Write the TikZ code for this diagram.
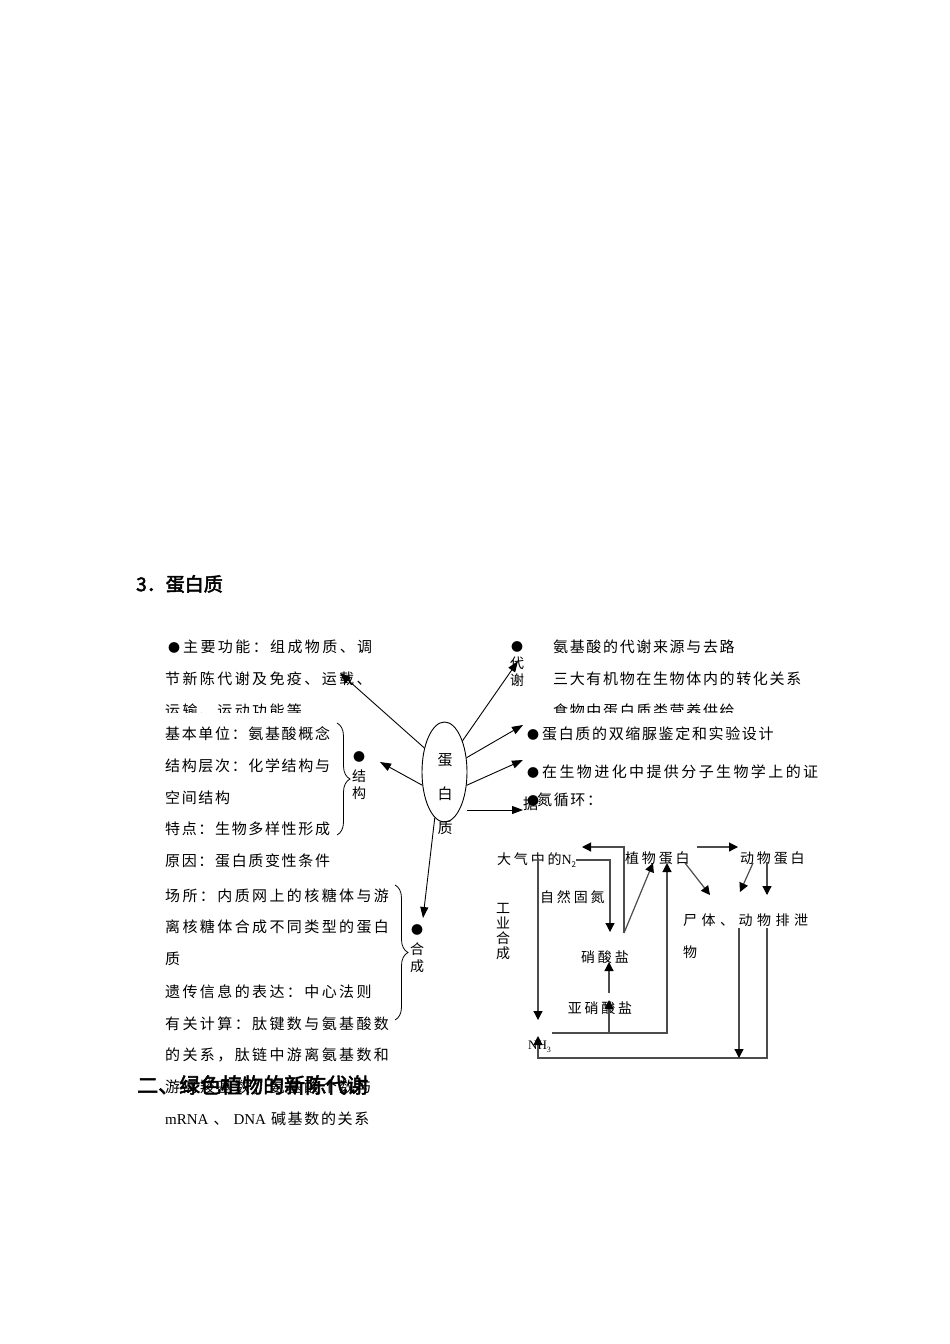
\documentclass[tikz,border=0pt]{standalone}
\usepackage{fontspec}
\setmainfont{Liberation Serif}
\newfontfamily\cjk[LetterSpace=11]{Noto Sans CJK SC}
\newfontfamily\cjkw[LetterSpace=16]{Noto Sans CJK SC}
\newfontfamily\cjkn[LetterSpace=20]{Noto Sans CJK SC}
\newfontfamily\cjkb[FakeBold=2.5]{Noto Sans CJK SC}
\usetikzlibrary{shapes.geometric,arrows.meta,decorations.pathreplacing}
\newcommand{\bul}{{\fontsize{12}{12}\selectfont ●}}
\newcommand{\lowidx}[1]{\raisebox{-2.5pt}{\fontsize{8}{8}\selectfont #1}}
\tikzset{
  txt/.style={anchor=west,inner sep=0pt,font=\cjk\fontsize{15}{17}\selectfont},
  wtxt/.style={anchor=west,inner sep=0pt,font=\cjkw\fontsize{15}{17}\selectfont},
  ntxt/.style={anchor=west,inner sep=0pt,font=\cjkn\fontsize{14}{17}\selectfont},
  vtxt/.style={inner sep=0pt,align=center,font=\cjkn\fontsize{14}{17}\selectfont},
  head/.style={anchor=west,inner sep=0pt,font=\cjkb\fontsize{19}{22}\selectfont},
  arr/.style={-{Triangle[length=11pt,width=8pt]},line width=0.9pt},
  cyc/.style={draw=black!70,line width=1.2pt,-{Triangle[length=9pt,width=9pt,color=black]}},
  brc/.style={decorate,decoration={brace,amplitude=13pt,aspect=0.5},line width=0.8pt}
}
\begin{document}
\begin{tikzpicture}[x=1pt,y=-1pt]
  \fill[white] (0,0) rectangle (950,1344);
  \useasboundingbox (0,0) rectangle (950,1344);

  %Nodes
  \node[head] at (136,584) (title) {3．蛋白质};
  \node[draw,ellipse,line width=0.9pt,inner sep=0pt,minimum width=45pt,minimum height=100pt] at (444.5,772) (dbz) {};
  \node[vtxt,font=\cjk\fontsize{15}{34}\selectfont] at (445,794) (dbzt) {蛋\\白\\质};

  \node[wtxt] at (168,647) (gn1) {\bul\hspace{3pt}主要功能：组成物质、调};
  \node[wtxt] at (165,679) (gn2) {节新陈代谢及免疫、运载、};
  \begin{scope}
    \clip (150,690) rectangle (850,712);
    \node[wtxt] at (165,711) (gn3) {运输、运动功能等};
    \node[txt] at (553,711) (dx3) {食物中蛋白质类营养供给};
  \end{scope}

  \node[txt] at (165,734) (jg1) {基本单位：氨基酸概念};
  \node[txt] at (165,766) (jg2) {结构层次：化学结构与};
  \node[txt] at (165,798) (jg3) {空间结构};
  \node[txt] at (165,829) (jg4) {特点：生物多样性形成};
  \node[txt] at (165,861) (bx) {原因：蛋白质变性条件};
  \node[vtxt] at (359,757) (jgb) {\bul};
  \node[vtxt] at (359,785) (jg) {结\\构};

  \node[wtxt] at (165,896) (hc1) {场所：内质网上的核糖体与游};
  \node[wtxt] at (165,927) (hc2) {离核糖体合成不同类型的蛋白};
  \node[wtxt] at (165,959) (hc3) {质};
  \node[wtxt] at (165,992) (hc4) {遗传信息的表达：中心法则};
  \node[wtxt] at (165,1024) (js1) {有关计算：肽键数与氨基酸数};
  \node[wtxt] at (165,1055) (js2) {的关系，肽链中游离氨基数和};
  \node[wtxt] at (165,1087) (js3) {游离羧基数；氨基酸个数与};
  \node[txt] at (165,1119) (js4) {{\rmfamily mRNA} 、 {\rmfamily DNA} 碱基数的关系};
  \node[vtxt] at (417,930) (hcb) {\bul};
  \node[vtxt] at (417,958) (hc) {合\\成};
  \node[head,font=\cjkb\fontsize{21}{24}\selectfont] at (137,1085) (er) {二、绿色植物的新陈代谢};

  \node[vtxt] at (517,647) (dxb) {\bul};
  \node[vtxt] at (517,672) (dx) {代\\谢};
  \node[txt] at (553,647) (dx1) {氨基酸的代谢来源与去路};
  \node[txt] at (553,679) (dx2) {三大有机物在生物体内的转化关系};
  \node[txt] at (527,734) (sy) {\bul\hspace{3pt}蛋白质的双缩脲鉴定和实验设计};
  \node[wtxt] at (527,772) (jh) {\bul\hspace{3pt}在生物进化中提供分子生物学上的证};
  \node[txt] at (523,804) (jh2) {据};
  \node[txt] at (527,800) (dxh) {\bul\hspace{-2pt}氮循环：};

  \node[ntxt] at (497,860) (dq) {大气中的{\rmfamily N}\lowidx{2}};
  \node[ntxt] at (625,858) (zwdb) {植物蛋白};
  \node[ntxt] at (740,858) (dwdb) {动物蛋白};
  \node[ntxt] at (540,897) (zrgd) {自然固氮};
  \node[vtxt,font=\cjk\fontsize{14}{15}\selectfont] at (503,932) (gyhc) {工\\业\\合\\成};
  \node[vtxt] at (605,957) (xsy) {硝酸盐};
  \node[vtxt] at (600,1008) (yxsy) {亚硝酸盐};
  \node[ntxt,font=\cjkn\fontsize{14}{17}\selectfont\addfontfeature{LetterSpace=32}] at (683,920) (st) {尸体、动物排泄};
  \node[ntxt] at (683,952) (st2) {物};
  \node[anchor=west,inner sep=0pt,font=\rmfamily\fontsize{13}{15}\selectfont] at (528,1047) (nh) {NH\lowidx{3}};

  %Coordinates
  \coordinate (t1) at (340,673);
  \coordinate (t2) at (380,762);
  \coordinate (t3) at (518,661);
  \coordinate (t4) at (523,725);
  \coordinate (t5) at (523,760);
  \coordinate (t6) at (523,810);
  \coordinate (t7) at (423,918);

  \coordinate (a1) at (610,932);
  \coordinate (a2) at (624,933);
  \coordinate (a3) at (582,847);
  \coordinate (a4) at (653,863);
  \coordinate (a5) at (552,1033);
  \coordinate (a6) at (667,863);
  \coordinate (a7) at (609,1033);
  \coordinate (a8) at (609,1000);
  \coordinate (a9) at (609,993);
  \coordinate (a10) at (609,962);
  \coordinate (a11) at (538,858);
  \coordinate (a12) at (538,1020);
  \coordinate (a13) at (767,928);
  \coordinate (a14) at (538,1058);
  \coordinate (a15) at (538,1036);
  \coordinate (a16) at (739,928);
  \coordinate (a17) at (739,1058);
  \coordinate (a18) at (697,847);
  \coordinate (a19) at (738,847);
  \coordinate (a20) at (685,863);
  \coordinate (a21) at (710,895);
  \coordinate (a22) at (753,863);
  \coordinate (a23) at (740,892);
  \coordinate (a24) at (767,862);
  \coordinate (a25) at (767,895);

  %Braces
  \draw[brc] (337,723) -- (337,835);
  \draw[brc] (395,885) -- (395,1020);

  %Lines
  \draw[arr] (dbz.130) -- (t1);
  \draw[arr] (dbz.211) -- (t2);
  \draw[arr] (dbz.60) -- (t3);
  \draw[arr] (dbz.33) -- (t4);
  \draw[arr] (dbz.329) -- (t5);
  \draw[arr] (dbz.east |- t6) -- (t6);
  \draw[arr] (dbz.258) -- (t7);

  \draw[cyc] (dq.east) -| (a1);
  \draw[cyc] (a2) |- (a3);
  \draw[cyc] (a2) -- (a4);
  \draw[cyc] (a5) -| (a6);
  \draw[cyc] (a7) -- (a8);
  \draw[cyc] (a9) -- (a10);
  \draw[cyc] (a11) -- (a12);
  \draw[cyc] (a13) |- (a14) -- (a15);
  \draw[cyc] (a16) -- (a17);
  \draw[cyc] (a18) -- (a19);
  \draw[cyc] (a20) -- (a21);
  \draw[cyc] (a22) -- (a23);
  \draw[cyc] (a24) -- (a25);
\end{tikzpicture}
\end{document}
